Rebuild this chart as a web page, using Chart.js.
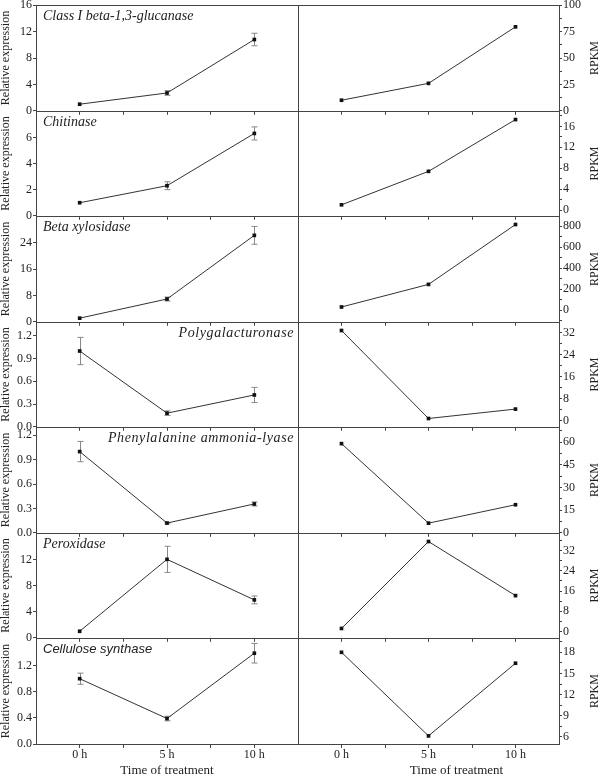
<!DOCTYPE html>
<html>
<head>
<meta charset="utf-8">
<title>Gene expression vs RPKM</title>
<script src="https://cdn.jsdelivr.net/npm/chart.js@4.4.1/dist/chart.umd.min.js"></script>
<style>
  body { margin: 0; background: #fff; }
  #fig { position: relative; width: 600px; height: 776px; overflow: hidden; }
  #fig canvas { position: absolute; }
</style>
</head>
<body>
<div id="fig"></div>
<script>
// x categories
var hours = [0, 5, 10];
var timeLabels = ['0 h', '5 h', '10 h'];

var genes = ['Class I beta-1,3-glucanase', 'Chitinase', 'Beta xylosidase', 'Polygalacturonase',
  'Phenylalanine ammonia-lyase', 'Peroxidase', 'Cellulose synthase'];

// relative expression (qRT-PCR) with error bars
var relGlucanase = [1.0, 2.7, 10.8];
var errGlucanase = [0, 0.35, 0.95];
var relChitinase = [1.0, 2.3, 6.3];
var errChitinase = [0, 0.3, 0.5];
var relXylosidase = [1.1, 6.9, 26.2];
var errXylosidase = [0, 0.6, 2.7];
var relPG = [1.0, 0.18, 0.42];
var errPG = [0.18, 0.03, 0.1];
var relPAL = [1.0, 0.12, 0.355];
var errPAL = [0.125, 0.01, 0.025];
var relPeroxidase = [1.0, 12.0, 5.8];
var errPeroxidase = [0, 2.0, 0.6];
var relCesA = [1.0, 0.39, 1.39];
var errCesA = [0.085, 0.035, 0.15];

// RPKM from RNA-seq
var rpkmGlucanase = [10, 26, 79.5];
var rpkmChitinase = [1.0, 7.4, 17.3];
var rpkmXylosidase = [31, 246, 816];
var rpkmPG = [32.7, 0.9, 4.3];
var rpkmPAL = [59.1, 6.4, 18.6];
var rpkmPeroxidase = [1.2, 35.6, 14.2];
var rpkmCesA = [18.0, 6.15, 16.45];

// axis ranges and tick labels
var relRanges = [[0, 16], [0, 8], [0, 32], [0, 1.38], [0, 1.3], [0, 16], [0, 1.62]];
var relTicks = [[0, 4, 8, 12, 16], [0, 2, 4, 6], [0, 8, 16, 24], [0, 0.3, 0.6, 0.9, 1.2],
  [0, 0.3, 0.6, 0.9, 1.2], [0, 4, 8, 12], [0, 0.4, 0.8, 1.2]];
var relDecimals = [0, 0, 0, 1, 1, 0, 1];
var rpkmRanges = [[0, 100], [-1.1, 18.9], [-110, 895], [-2.1, 35.7], [0, 70], [-2.5, 38.9], [5, 20]];
var rpkmTicks = [[0, 25, 50, 75, 100], [0, 4, 8, 12, 16], [0, 200, 400, 600, 800], [0, 8, 16, 24, 32],
  [0, 15, 30, 45, 60], [0, 8, 16, 24, 32], [6, 9, 12, 15, 18]];

var relSeries = [relGlucanase, relChitinase, relXylosidase, relPG, relPAL, relPeroxidase, relCesA];
var errSeries = [errGlucanase, errChitinase, errXylosidase, errPG, errPAL, errPeroxidase, errCesA];
var rpkmSeries = [rpkmGlucanase, rpkmChitinase, rpkmXylosidase, rpkmPG, rpkmPAL, rpkmPeroxidase, rpkmCesA];

// layout
var rowTops = [5, 111, 216, 322, 427, 533, 638];
var figBottom = 744;
var serif = '"Liberation Serif", "Times New Roman", serif';
var ink = '#222';
var frameColor = '#444';

function withMinor(major, lo, hi) {
  var step = major[1] - major[0], out = [];
  for (var v = major[0] - step; v <= hi + 1e-9; v += step / 2) {
    if (v >= lo - 1e-9) out.push(v);
  }
  return out;
}

// frame, error bars, gene names and axis titles
var panelDecor = {
  id: 'panelDecor',
  beforeDatasetsDraw: function (chart, args, opts) {
    var errs = opts.errors;
    if (!errs) return;
    var ctx = chart.ctx, xs = chart.scales.x, ys = chart.scales.y;
    var vals = chart.data.datasets[0].data;
    ctx.save();
    ctx.strokeStyle = '#888';
    ctx.lineWidth = 1;
    for (var i = 0; i < vals.length; i++) {
      if (!errs[i]) continue;
      var x = Math.round(xs.getPixelForValue(vals[i].x)) + 0.5;
      var y1 = ys.getPixelForValue(vals[i].y - errs[i]);
      var y2 = ys.getPixelForValue(vals[i].y + errs[i]);
      ctx.beginPath();
      ctx.moveTo(x, y1); ctx.lineTo(x, y2);
      ctx.moveTo(x - 3, y1); ctx.lineTo(x + 3, y1);
      ctx.moveTo(x - 3, y2); ctx.lineTo(x + 3, y2);
      ctx.stroke();
    }
    ctx.restore();
  },
  afterDraw: function (chart, args, opts) {
    var ctx = chart.ctx, a = chart.chartArea;
    ctx.save();
    ctx.strokeStyle = frameColor;
    ctx.lineWidth = 1;
    ctx.strokeRect(Math.round(a.left) + 0.5, Math.round(a.top) + 0.5,
      Math.round(a.right - a.left), Math.round(a.bottom - a.top));

    ctx.fillStyle = ink;
    if (opts.gene) {
      ctx.font = opts.geneFont;
      if ('letterSpacing' in ctx) ctx.letterSpacing = opts.spacing || '0px';
      ctx.textBaseline = 'alphabetic';
      if (opts.geneAlign === 'right') {
        ctx.textAlign = 'right';
        ctx.fillText(opts.gene, a.right - 4, a.top + 15);
      } else {
        ctx.textAlign = 'left';
        ctx.fillText(opts.gene, a.left + 7, a.top + 15);
      }
      if ('letterSpacing' in ctx) ctx.letterSpacing = '0px';
    }
    if (opts.sideTitle) {
      ctx.save();
      ctx.translate(opts.sideTitleX, (a.top + a.bottom) / 2);
      ctx.rotate(-Math.PI / 2);
      ctx.font = '12px ' + serif;
      ctx.textAlign = 'center';
      ctx.textBaseline = 'middle';
      ctx.fillText(opts.sideTitle, 0, 0);
      ctx.restore();
    }
    if (opts.xTitle) {
      ctx.font = '13px ' + serif;
      ctx.textAlign = 'center';
      ctx.textBaseline = 'middle';
      ctx.fillText(opts.xTitle, (a.left + a.right) / 2 + opts.xTitleShift, opts.xTitleY);
    }
    ctx.restore();
  }
};

var fig = document.getElementById('fig');

function makePanel(row, side) {
  var isLeft = side === 'left';
  var isBottom = row === rowTops.length - 1;
  var top = rowTops[row];
  var bottom = row < rowTops.length - 1 ? rowTops[row + 1] : figBottom;
  var cTop = top - 8;
  var cHeight = isBottom ? 776 - cTop : (bottom - top) + 16;
  var cLeft = isLeft ? 0 : 296;
  var cWidth = isLeft ? 300 : 304;

  var canvas = document.createElement('canvas');
  canvas.width = cWidth;
  canvas.height = cHeight;
  canvas.style.left = cLeft + 'px';
  canvas.style.top = cTop + 'px';
  fig.appendChild(canvas);

  var values = isLeft ? relSeries[row] : rpkmSeries[row];
  var range = isLeft ? relRanges[row] : rpkmRanges[row];
  var major = isLeft ? relTicks[row] : rpkmTicks[row];
  var tickList = isLeft ? major : withMinor(major, range[0], range[1]);
  var dec = isLeft ? relDecimals[row] : 0;

  var geneRightAligned = row === 3 || row === 4;
  var geneFont = row === 6 ? 'italic 13px "Liberation Sans", Arial, sans-serif' : 'italic 14px ' + serif;

  new Chart(canvas.getContext('2d'), {
    type: 'line',
    data: {
      datasets: [{
        data: hours.map(function (h, i) { return { x: h, y: values[i] }; }),
        borderColor: '#333',
        borderWidth: 1,
        pointStyle: 'rect',
        pointRadius: 2.6,
        pointBackgroundColor: '#111',
        pointBorderWidth: 0,
        tension: 0,
        clip: false
      }]
    },
    options: {
      responsive: false,
      animation: false,
      events: [],
      layout: {
        autoPadding: false,
        padding: { top: 8, bottom: isBottom ? 0 : 8, left: isLeft ? 0 : 2, right: isLeft ? 2 : 0 }
      },
      scales: {
        x: {
          type: 'linear',
          min: -2.5,
          max: 12.5,
          afterBuildTicks: function (s) {
            s.ticks = [0, 2.5, 5, 7.5, 10].map(function (v) { return { value: v }; });
          },
          afterFit: function (s) { s.height = isBottom ? 32 : 0; },
          ticks: {
            display: isBottom,
            autoSkip: false,
            maxRotation: 0,
            padding: 0,
            color: ink,
            font: { family: serif, size: 12 },
            callback: function (v) {
              var i = hours.indexOf(v);
              return i >= 0 ? timeLabels[i] : '';
            }
          },
          grid: { drawOnChartArea: false, tickLength: 4, tickColor: frameColor },
          border: { display: false }
        },
        y: {
          type: 'linear',
          position: side,
          min: range[0],
          max: range[1],
          afterBuildTicks: function (s) {
            s.ticks = tickList.map(function (v) { return { value: v }; });
          },
          afterFit: function (s) { s.width = isLeft ? 36 : 41; },
          ticks: {
            autoSkip: false,
            padding: 1,
            color: ink,
            font: { family: serif, size: 12 },
            callback: function (v) {
              if (major.indexOf(v) < 0) return '';
              return dec ? v.toFixed(dec) : String(v);
            }
          },
          grid: { drawOnChartArea: false, tickLength: 3, tickColor: frameColor },
          border: { display: false },
          title: {
            display: isLeft,
            text: 'Relative expression',
            color: ink,
            font: { family: serif, size: 12, lineHeight: 1 },
            padding: 0
          }
        }
      },
      plugins: {
        legend: { display: false },
        tooltip: { enabled: false },
        panelDecor: {
          errors: isLeft ? errSeries[row] : null,
          gene: isLeft ? genes[row] : null,
          geneFont: geneFont,
          geneAlign: geneRightAligned ? 'right' : 'left',
          spacing: geneRightAligned ? '0.6px' : '0px',
          sideTitle: isLeft ? null : 'RPKM',
          sideTitleX: 595 - cLeft,
          xTitle: isBottom ? 'Time of treatment' : null,
          xTitleShift: isLeft ? 0 : 28,
          xTitleY: 771 - cTop
        }
      }
    },
    plugins: [panelDecor]
  });
}

for (var r = 0; r < rowTops.length; r++) {
  makePanel(r, 'left');
  makePanel(r, 'right');
}
</script>
</body>
</html>
